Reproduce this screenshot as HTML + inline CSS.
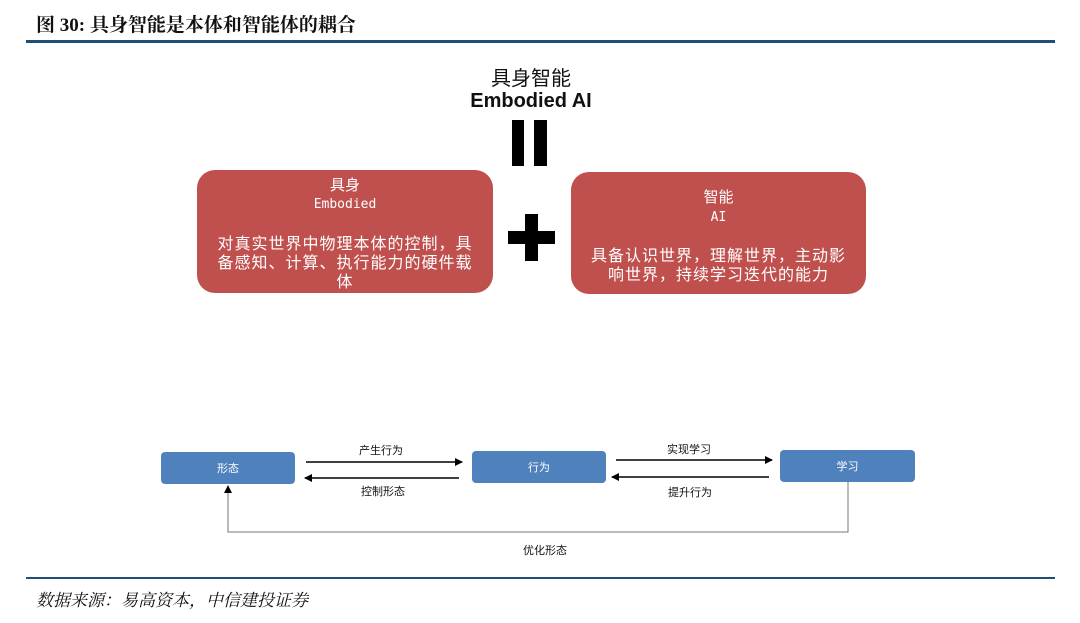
<!DOCTYPE html>
<html><head><meta charset="utf-8"><style>
body{margin:0;width:1080px;height:623px;background:#fff;position:relative;overflow:hidden;font-family:"Liberation Sans","Noto Sans CJK SC",sans-serif}
.a{position:absolute}
.t{white-space:nowrap}
.rb{position:absolute;background:#c0504d;border-radius:18px;color:#fff;text-align:center;font-size:15px;line-height:19px}
.bb{position:absolute;background:#4f81bd;border-radius:4px;color:#fff;font-size:11px;display:flex;align-items:center;justify-content:center}
.l{position:absolute;font-size:11px;white-space:nowrap;color:#111}
.d{font-size:16px;letter-spacing:1px;line-height:19px}
</style></head><body>
<div class="a t" style="left:36px;top:10px;font-size:19px;font-weight:bold;font-family:'Liberation Serif','Noto Serif CJK SC',serif;color:#111">图 30: 具身智能是本体和智能体的耦合</div>
<div class="a" style="left:26px;top:40px;width:1029px;height:3px;background:#1f4e79"></div>
<div class="a t" style="left:0;width:1062px;text-align:center;top:62px;font-size:20px;color:#111">具身智能</div>
<div class="a t" style="left:0;width:1062px;text-align:center;top:90px;font-size:20px;font-weight:bold;color:#111">Embodied AI</div>
<div class="a" style="left:512px;top:120px;width:12px;height:46px;background:#000"></div>
<div class="a" style="left:534px;top:120px;width:13px;height:46px;background:#000"></div>
<div class="rb" style="left:197px;top:170px;width:296px;height:123px">
<div style="margin-top:6px">具身</div><div style="font-size:13px;font-family:'DejaVu Sans Mono',monospace">Embodied</div>
<div class="d" style="margin:21px 14px 0">对真实世界中物理本体的控制，具备感知、计算、执行能力的硬件载体</div></div>
<div class="a" style="left:508px;top:231px;width:47px;height:13px;background:#000"></div>
<div class="a" style="left:525px;top:214px;width:13px;height:47px;background:#000"></div>
<div class="rb" style="left:571px;top:172px;width:295px;height:122px">
<div style="margin-top:16px">智能</div><div style="font-size:13px;font-family:'DejaVu Sans Mono',monospace;margin-top:1px">AI</div>
<div class="d" style="margin:20px 15px 0">具备认识世界，理解世界，主动影响世界，持续学习迭代的能力</div></div>
<div class="bb" style="left:161px;top:452px;width:134px;height:32px">形态</div>
<div class="bb" style="left:472px;top:451px;width:134px;height:32px">行为</div>
<div class="bb" style="left:780px;top:450px;width:135px;height:32px">学习</div>
<svg class="a" style="left:0;top:0" width="1080" height="623">
<defs><marker id="m" markerWidth="8" markerHeight="8" refX="7" refY="4" orient="auto" markerUnits="userSpaceOnUse"><path d="M0,0L8,4L0,8z" fill="#000"/></marker></defs>
<g stroke="#000" stroke-width="1.5" fill="none">
<line x1="306" y1="462" x2="462" y2="462" marker-end="url(#m)"/>
<line x1="459" y1="478" x2="305" y2="478" marker-end="url(#m)"/>
<line x1="616" y1="460" x2="772" y2="460" marker-end="url(#m)"/>
<line x1="769" y1="477" x2="612" y2="477" marker-end="url(#m)"/>
</g>
<polyline points="848,482 848,532 228,532 228,486" stroke="#777" stroke-width="1" fill="none" marker-end="url(#m)"/>
</svg>
<div class="l" style="left:359px;top:442px">产生行为</div>
<div class="l" style="left:361px;top:483px">控制形态</div>
<div class="l" style="left:667px;top:441px">实现学习</div>
<div class="l" style="left:668px;top:484px">提升行为</div>
<div class="l" style="left:523px;top:542px">优化形态</div>
<div class="a" style="left:26px;top:577px;width:1029px;height:2px;background:#1f4e79"></div>
<div class="a t" style="left:36px;top:586px;font-size:17px;font-style:italic;font-family:'Liberation Serif','Noto Serif CJK SC',serif;color:#111">数据来源：易高资本，中信建投证券</div>
</body></html>
